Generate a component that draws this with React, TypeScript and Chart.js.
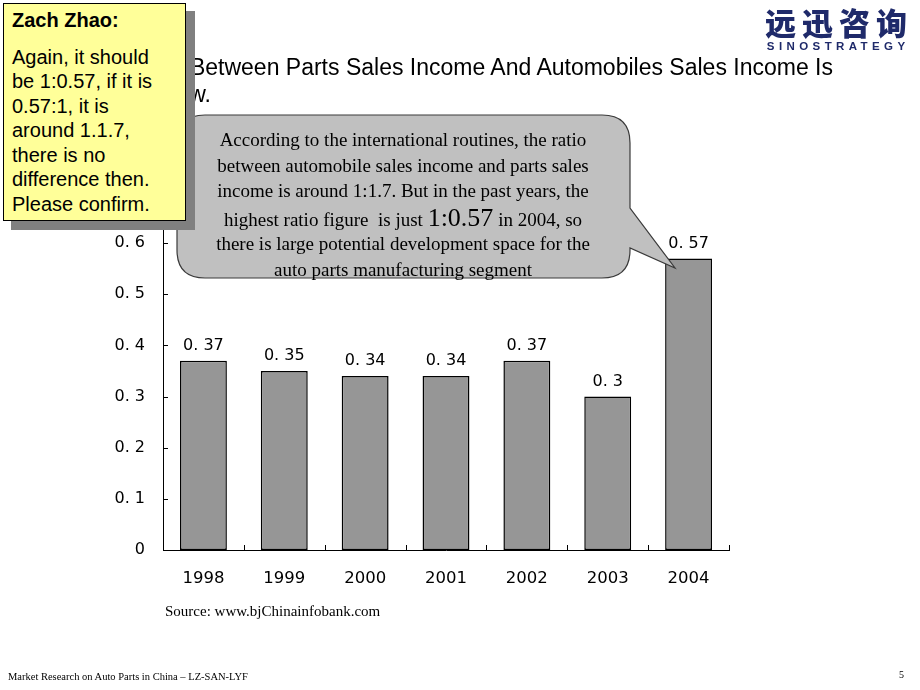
import React, { useEffect, useRef } from "react";
import { Chart, registerables } from "chart.js";

Chart.register(...registerables);

const categories = ["1998", "1999", "2000", "2001", "2002", "2003", "2004"];
const ratioValues = [0.37, 0.35, 0.34, 0.34, 0.37, 0.3, 0.57];
const yTickValues = [0, 0.1, 0.2, 0.3, 0.4, 0.5, 0.6, 0.7];

const fmt = (v: number) => {
  if (v === 0) return "0";
  const s = String(Math.round(v * 100) / 100);
  return s.replace(".", ". ");
};

const decorPlugin = {
  id: "decor",
  afterDatasetsDraw(chart: any) {
    const ctx = chart.ctx;
    const x = chart.scales.x;
    const y = chart.scales.y;
    ctx.save();
    ctx.strokeStyle = "#000";
    ctx.lineWidth = 1;
    // inward y ticks
    yTickValues.forEach((v) => {
      const py = Math.round(y.getPixelForValue(v)) + 0.5;
      ctx.beginPath();
      ctx.moveTo(x.left, py);
      ctx.lineTo(x.left + 5, py);
      ctx.stroke();
    });
    // inward x ticks at category boundaries
    const n = categories.length;
    for (let i = 1; i <= n; i++) {
      const px = Math.round(x.left + (i * (x.right - x.left)) / n) + 0.5;
      ctx.beginPath();
      ctx.moveTo(px, y.bottom);
      ctx.lineTo(px, y.bottom - 5);
      ctx.stroke();
    }
    // data labels
    const meta = chart.getDatasetMeta(0);
    ctx.fillStyle = "#000";
    ctx.font = "16px 'DejaVu Sans'";
    ctx.textAlign = "center";
    ctx.textBaseline = "bottom";
    meta.data.forEach((bar: any, i: number) => {
      ctx.fillText(fmt(ratioValues[i]), bar.x, bar.y - 7);
    });
    ctx.restore();
  },
};

function BarChart() {
  const ref = useRef<HTMLCanvasElement | null>(null);
  useEffect(() => {
    if (!ref.current) return;
    const chart = new Chart(ref.current, {
      type: "bar",
      data: {
        labels: categories,
        datasets: [
          {
            data: ratioValues,
            backgroundColor: "#969696",
            borderColor: "#000",
            borderWidth: 1.5,
            borderSkipped: false,
            barPercentage: 0.58,
            categoryPercentage: 1,
          },
        ],
      },
      options: {
        animation: false,
        responsive: false,
        maintainAspectRatio: false,
        layout: { padding: { left: 93, right: 191, top: 192, bottom: 100 } },
        plugins: {
          legend: { display: false },
          tooltip: { enabled: false },
          title: { display: false },
        },
        scales: {
          x: {
            offset: true,
            grid: { display: false, drawTicks: false },
            border: { display: true, color: "#000", width: 1 },
            ticks: {
              color: "#000",
              font: { family: "'DejaVu Sans'", size: 16.5 },
              padding: 19,
              maxRotation: 0,
            },
            afterFit: (s: any) => {
              s.height = 40;
            },
          },
          y: {
            min: 0,
            max: 0.7,
            grid: { display: false, drawTicks: false },
            border: { display: true, color: "#000", width: 1 },
            ticks: {
              stepSize: 0.1,
              color: "#000",
              font: { family: "'DejaVu Sans'", size: 16 },
              padding: 18,
              callback: (v: any) => fmt(Number(v)),
            },
            afterFit: (s: any) => {
              s.width = 70;
            },
          },
        },
      },
      plugins: [decorPlugin],
    });
    return () => chart.destroy();
  }, []);
  return <canvas ref={ref} width={920} height={690} style={{ position: "absolute", left: 0, top: 0 }} />;
}

export default function App() {
  const serif = "'Liberation Serif', 'Times New Roman', serif";
  const sans = "'Liberation Sans', Arial, sans-serif";
  return (
    <div style={{ position: "absolute", left: 0, top: 0, width: 920, height: 690, background: "#fff", overflow: "hidden" }}>
      <BarChart />
      {/* Title */}
      <div style={{ position: "absolute", right: 87, top: 54, fontFamily: sans, fontSize: 23, whiteSpace: "nowrap", color: "#000", lineHeight: "27px" }}>
        The Ratio Between Parts Sales Income And Automobiles Sales Income Is
      </div>
      <div style={{ position: "absolute", right: 709, top: 81, fontFamily: sans, fontSize: 23, whiteSpace: "nowrap", color: "#000", lineHeight: "27px" }}>
        As Follow.
      </div>
      {/* Logo */}
      <div style={{ position: "absolute", left: 758, top: 4, width: 156, textAlign: "center", color: "#1f2a6a" }}>
        <div style={{ fontFamily: "'Noto Sans CJK SC'", fontWeight: 900, fontSize: 31, letterSpacing: 6, lineHeight: "36px", marginRight: -6 }}>远迅咨询</div>
        <div style={{ fontFamily: sans, fontWeight: 700, fontSize: 11.5, letterSpacing: 4.4, lineHeight: "12px", marginRight: -4.4 }}>SINOSTRATEGY</div>
      </div>
      {/* Callout */}
      <svg width={920} height={690} style={{ position: "absolute", left: 0, top: 0 }}>
        <path
          d="M 205 115 L 602 115 Q 630 115 630 143 L 630 208 L 675 268 L 630 248 L 630 250 Q 630 278 602 278 L 205 278 Q 177 278 177 250 L 177 143 Q 177 115 205 115 Z"
          fill="#c0c0c0"
          stroke="#3a3a3a"
          strokeWidth={1.2}
        />
      </svg>
      <div style={{ position: "absolute", left: 180, top: 127, width: 446, textAlign: "center", fontFamily: serif, fontSize: 19, lineHeight: "25.5px", color: "#000" }}>
        According to the international routines, the ratio
        <br />
        between automobile sales income and parts sales
        <br />
        income is around 1:1.7. But in the past years, the
        <br />
        <span style={{ position: "relative", top: 1 }}>
          highest ratio figure&nbsp; is just <span style={{ fontSize: 26 }}>1:0.57</span> in 2004, so
        </span>
        <br />
        there is large potential development space for the
        <br />
        auto parts manufacturing segment
      </div>
      {/* Sticky note */}
      <div style={{ position: "absolute", left: 11, top: 11, width: 184, height: 219, background: "#808080" }} />
      <div
        style={{
          position: "absolute",
          left: 3,
          top: 3,
          width: 183,
          height: 218,
          background: "#ffff99",
          border: "1px solid #000",
          fontFamily: sans,
          fontSize: 20,
          lineHeight: "24.5px",
          color: "#000",
          boxSizing: "border-box",
          padding: "4px 0 0 8px",
        }}
      >
        <div style={{ fontWeight: 700 }}>Zach Zhao:</div>
        <div style={{ marginTop: 12 }}>
          Again, it should
          <br />
          be 1:0.57, if it is
          <br />
          0.57:1, it is
          <br />
          around 1.1.7,
          <br />
          there is no
          <br />
          difference then.
          <br />
          Please confirm.
        </div>
      </div>
      {/* Source */}
      <div style={{ position: "absolute", left: 165, top: 603, fontFamily: serif, fontSize: 15, color: "#000", whiteSpace: "nowrap" }}>
        Source: www.bjChinainfobank.com
      </div>
      {/* Footer */}
      <div style={{ position: "absolute", left: 8, top: 671, fontFamily: serif, fontSize: 10.5, color: "#000", whiteSpace: "nowrap" }}>
        Market Research on Auto Parts in China – LZ-SAN-LYF
      </div>
      <div style={{ position: "absolute", left: 899, top: 669, fontFamily: serif, fontSize: 10, color: "#000" }}>5</div>
    </div>
  );
}
